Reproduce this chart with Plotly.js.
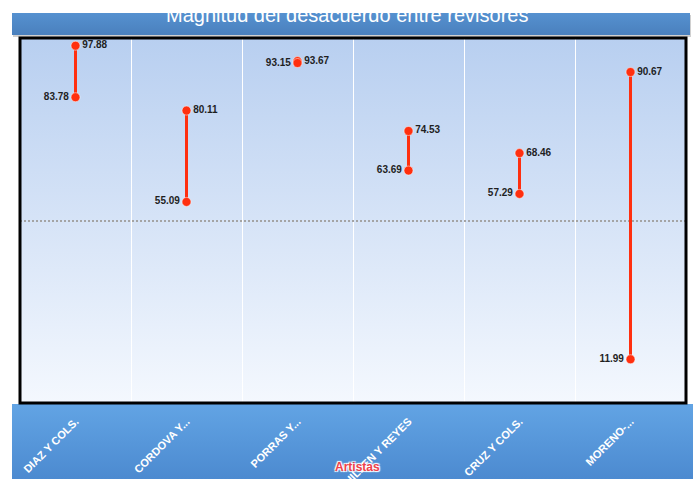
<!DOCTYPE html>
<html>
<head>
<meta charset="utf-8">
<script src="https://cdn.plot.ly/plotly-3.0.1.min.js"></script>
<style>html,body{margin:0;padding:0;background:#fff;}</style>
</head>
<body>
<div id="chart" style="width:693px;height:479px;"></div>
<script>
// ---- data ----
var categories = ["DIAZ Y COLS.", "CORDOVA Y...", "PORRAS Y...", "GUILLEN Y REYES", "CRUZ Y COLS.", "MORENO-..."];
var highValues = [97.88, 80.11, 93.67, 74.53, 68.46, 90.67];
var lowValues  = [83.78, 55.09, 93.15, 63.69, 57.29, 11.99];
var chartTitle = "Magnitud del desacuerdo entre revisores";
var xTitle = "Artistas";

// ---- build connector line (gaps between categories) ----
var lineX = [], lineY = [];
categories.forEach(function (c, i) {
  lineX.push(c, c, null);
  lineY.push(lowValues[i], highValues[i], null);
});

var red = '#ff2f0f';
var labelFont = {family: 'Liberation Sans, Arial, sans-serif', size: 10, color: '#1f1f1f', weight: 'bold'};

var traces = [
  {type: 'scatter', mode: 'lines', x: lineX, y: lineY, connectgaps: false,
   line: {color: red, width: 3}, hoverinfo: 'skip', showlegend: false},
  {type: 'scatter', mode: 'markers+text', x: categories, y: highValues,
   text: highValues.map(function (v) { return v.toFixed(2); }),
   textposition: 'middle right', textfont: labelFont,
   marker: {color: red, size: 9, line: {color: 'rgba(255,255,255,0.5)', width: 1}},
   showlegend: false, cliponaxis: false},
  {type: 'scatter', mode: 'markers+text', x: categories, y: lowValues,
   text: lowValues.map(function (v) { return v.toFixed(2); }),
   textposition: 'middle left', textfont: labelFont,
   marker: {color: red, size: 9, line: {color: 'rgba(255,255,255,0.5)', width: 1}},
   showlegend: false, cliponaxis: false}
];

// ---- decorative background (banners + plot gradient) as an svg image ----
var W = 693, H = 479, ml = 20, mr = 7, mt = 38, mb = 76;
var pw = W - ml - mr, ph = H - mt - mb;
var svg = '<svg xmlns="http://www.w3.org/2000/svg" width="' + W + '" height="' + H + '">' +
  '<defs>' +
  '<linearGradient id="pg" x1="0" y1="0" x2="0" y2="1"><stop offset="0" stop-color="#b8cff0"/><stop offset="1" stop-color="#f4f8fe"/></linearGradient>' +
  '<linearGradient id="tb" x1="0" y1="0" x2="0" y2="1"><stop offset="0" stop-color="#5591d0"/><stop offset="1" stop-color="#4a80bd"/></linearGradient>' +
  '<linearGradient id="bb" x1="0" y1="0" x2="0" y2="1"><stop offset="0" stop-color="#62a4e4"/><stop offset="1" stop-color="#4c8ad0"/></linearGradient>' +
  '</defs>' +
  '<rect x="0" y="0" width="' + W + '" height="' + H + '" fill="#ffffff"/>' +
  '<rect x="13" y="15" width="678" height="22" fill="#b0b0b0" opacity="0.6"/>' +
  '<rect x="12" y="13" width="678" height="22" fill="url(#tb)"/>' +
  '<rect x="' + ml + '" y="' + mt + '" width="' + pw + '" height="' + ph + '" fill="url(#pg)"/>' +
  '<rect x="12" y="404" width="681" height="75" fill="url(#bb)"/>' +
  '</svg>';
var svgUri = 'data:image/svg+xml;base64,' + btoa(svg);

var layout = {
  width: W, height: H,
  margin: {l: ml, r: mr, t: mt, b: mb, pad: 0},
  paper_bgcolor: 'rgba(0,0,0,0)',
  plot_bgcolor: 'rgba(0,0,0,0)',
  showlegend: false,
  font: {family: 'Liberation Sans, Arial, sans-serif'},
  images: [{
    source: svgUri, xref: 'paper', yref: 'paper',
    x: -ml / pw, y: 1 + mt / ph, sizex: W / pw, sizey: H / ph,
    xanchor: 'left', yanchor: 'top', sizing: 'stretch', layer: 'below'
  }],
  xaxis: {
    type: 'category', categoryorder: 'array', categoryarray: categories,
    range: [-0.5, categories.length - 0.5],
    tickson: 'boundaries', showgrid: true, gridcolor: '#ffffff', gridwidth: 1,
    ticks: '', tickangle: -45, ticklabelstandoff: 9,
    tickfont: {family: 'Liberation Sans, Arial, sans-serif', size: 11, color: '#ffffff', weight: 'bold'},
    showline: false, zeroline: false, fixedrange: true
  },
  yaxis: {
    range: [0, 100], tickvals: [50], showticklabels: false, ticks: '',
    showgrid: true, gridcolor: '#a4a4a4', gridwidth: 2, griddash: '2px,2px',
    zeroline: false, showline: false, fixedrange: true
  },
  shapes: [{
    type: 'rect', xref: 'paper', yref: 'paper', x0: 0, x1: 1, y0: 0, y1: 1,
    line: {color: '#000000', width: 3}, fillcolor: 'rgba(0,0,0,0)', layer: 'above'
  }],
  annotations: [
    {text: chartTitle, xref: 'paper', yref: 'paper', x: (347 - ml) / pw, y: 1 + (mt - 15) / ph,
     xanchor: 'center', yanchor: 'middle', showarrow: false,
     font: {family: 'Liberation Sans, Arial, sans-serif', size: 20, color: '#ffffff'}},
    {text: xTitle, xref: 'paper', yref: 'paper', x: (357 - ml) / pw, y: -(467 - mt - ph) / ph,
     xanchor: 'center', yanchor: 'middle', showarrow: false,
     font: {family: 'Liberation Sans, Arial, sans-serif', size: 12, color: '#f0404a', weight: 'bold',
            shadow: '1px 1px 1px #ffffff, -1px -1px 1px #ffffff, 1px -1px 1px #ffffff, -1px 1px 1px #ffffff'}}
  ]
};

Plotly.newPlot('chart', traces, layout, {displayModeBar: false, staticPlot: true});
</script>
</body>
</html>
